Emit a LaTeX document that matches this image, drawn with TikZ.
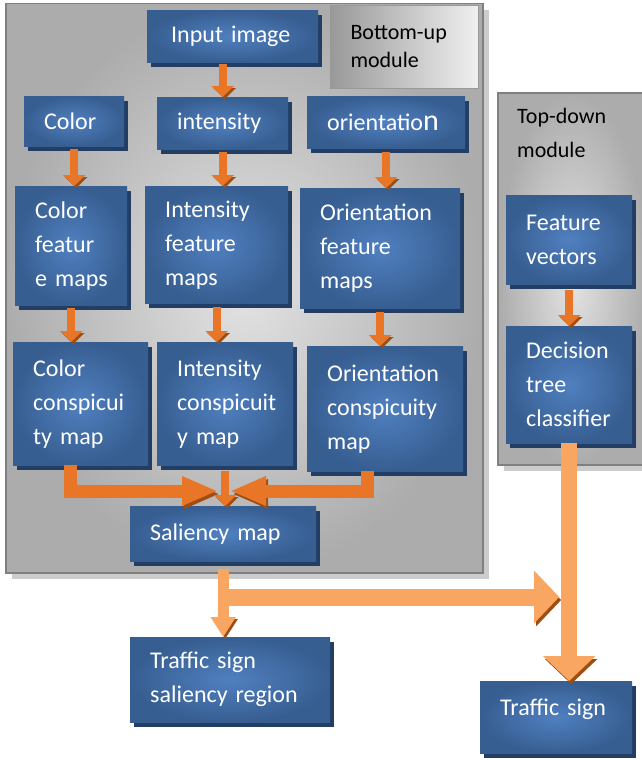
\documentclass[tikz,border=0pt]{standalone}
\usepackage{fontspec}
\setmainfont{Carlito}
\usetikzlibrary{arrows.meta,shadows,positioning}
\definecolor{boxdark}{RGB}{55,94,145}
\definecolor{boxlight}{RGB}{80,128,192}
\definecolor{boxshade}{RGB}{35,62,100}
\definecolor{arrorange}{RGB}{232,118,38}
\definecolor{arrlight}{RGB}{248,166,98}
\definecolor{arrshade}{RGB}{158,78,18}
\newcommand{\boxfont}{\fontsize{24}{34}\selectfont}
\newcommand{\lblfont}{\fontsize{22}{28}\selectfont}
\tikzset{
  blk/.style={anchor=north west, inner color=boxlight, outer color=boxdark,
    text=white, font=\boxfont, align=left, inner xsep=20pt, inner ysep=0pt,
    drop shadow={shadow xshift=4pt,shadow yshift=-5pt,fill=boxshade,opacity=1}},
  panel/.style={anchor=north west, inner sep=0pt, draw=gray, line width=1.5pt,
    inner color=gray!22, outer color=gray!65,
    drop shadow={shadow xshift=6pt,shadow yshift=-6pt,fill=gray!40,opacity=1}},
  modlbl/.style={anchor=north west, draw=gray!80, line width=1pt, font=\lblfont,
    align=left, inner xsep=20pt, inner ysep=0pt,
    left color=gray!80, right color=gray!12},
  sarr/.style={line width=8pt, draw=arrorange, -{Triangle[width=22pt,length=11pt]},
    preaction={draw=arrshade, transform canvas={xshift=2pt,yshift=-2pt}}},
  marr/.style={line width=13pt, draw=arrorange, -{Triangle[width=27pt,length=36pt]},
    preaction={draw=arrshade, transform canvas={xshift=2pt,yshift=-3pt}}},
  parr/.style={line width=11pt, draw=arrlight, -{Triangle[width=24pt,length=20pt]},
    preaction={draw=arrshade, transform canvas={xshift=2pt,yshift=-2pt}}},
  tarr/.style={line width=16pt, draw=arrlight, -{Triangle[width=51pt,length=25pt]},
    preaction={draw=arrshade, transform canvas={xshift=2pt,yshift=-3pt}}}
}
\begin{document}
\begin{tikzpicture}[x=1pt,y=-1pt]
\useasboundingbox (0,0) rectangle (642,760);
% modules
\node[panel, minimum width=477pt, minimum height=569pt] (bu) at (5,3) {};
\node[modlbl, text width=108pt, minimum height=83pt] (bulab) at (330,5) {Bottom-up\\module};
\node[panel, minimum width=150pt, minimum height=372pt] (td) at (497,92) {};
\node[anchor=north west, inner sep=0pt, align=left, font=\fontsize{22}{34}\selectfont] (tdlab) at (517,108) {Top-down\\module};
% bottom-up blocks
\node[blk, text width=131pt, minimum height=52pt] (inimg) at (147,10) {\,Input~image};
\node[blk, text width=60pt, minimum height=50pt] (color) at (24,96) {Color};
\node[blk, text width=91pt, minimum height=52pt] (inten) at (157,97) {intensity};
\node[blk, text width=118pt, minimum height=52pt] (orient) at (307,96) {orientatio{\fontsize{30}{34}\selectfont n}};
\node[blk, text width=72pt, minimum height=119pt] (cfm) at (15,186) {Color\\featur\\e~maps};
\node[blk, text width=103pt, minimum height=117pt] (ifm) at (145,186) {Intensity\\feature\\maps};
\node[blk, text width=120pt, minimum height=120pt] (ofm) at (300,188) {Orientation\\feature\\maps};
\node[blk, text width=95pt, minimum height=123pt] (ccm) at (13,342) {Color\\conspicui\\ty~map};
\node[blk, text width=96pt, minimum height=123pt] (icm) at (157,342) {Intensity\\conspicuit\\y~map};
\node[blk, text width=116pt, minimum height=125pt] (ocm) at (307,346) {Orientation\\conspicuity\\map};
\node[blk, text width=146pt, minimum height=55pt] (sal) at (130,506) {Saliency~map};
% top-down blocks
\node[blk, text width=86pt, minimum height=89pt] (fv) at (506,195) {Feature\\vectors};
\node[blk, text width=86pt, minimum height=117pt] (dtc) at (506,326) {Decision\\tree\\classifier};
% outputs
\node[blk, text width=160pt, minimum height=85pt] (tsr) at (130,637) {Traffic~sign\\saliency~region};
\node[blk, text width=112pt, minimum height=72pt] (ts) at (480,681) {Traffic~sign\\[-14pt]\mbox{}};
% arrows
\draw[sarr, shorten <=2pt] (inten.north |- inimg.south) -- (inten.north);
\draw[sarr, shorten <=3pt] (color.south) -- (color.south |- cfm.north);
\draw[sarr, shorten <=3pt] (inten.south) -- (inten.south |- ifm.north);
\draw[sarr, shorten <=4pt] (orient.south) -- (orient.south |- ofm.north);
\draw[sarr, shorten <=3pt] (cfm.south) -- (cfm.south |- ccm.north);
\draw[sarr, shorten <=4pt] (ifm.south) -- (ifm.south |- icm.north);
\draw[sarr, shorten <=4pt] (ofm.south) -- (ofm.south |- ocm.north);
\draw[sarr, shorten <=6pt] (fv.south) -- (fv.south |- dtc.north);
\coordinate (mj) at (224,491);
\draw[marr] ([xshift=-10pt]ccm.south) |- ([xshift=-6pt]mj);
\draw[marr] ([xshift=-18pt]ocm.south) |- ([xshift=6pt]mj);
\draw[sarr, shorten <=6pt] (icm.south) -- (icm.south |- sal.north);
\draw[tarr, line width=17pt, shorten >=10pt] (sal.south |- 0,597) -- (dtc.south |- 0,597);
\draw[parr, shorten <=8pt] (sal.south) -- (sal.south |- tsr.north);
\draw[tarr] (dtc.south) -- (dtc.south |- ts.north);
\end{tikzpicture}
\end{document}
